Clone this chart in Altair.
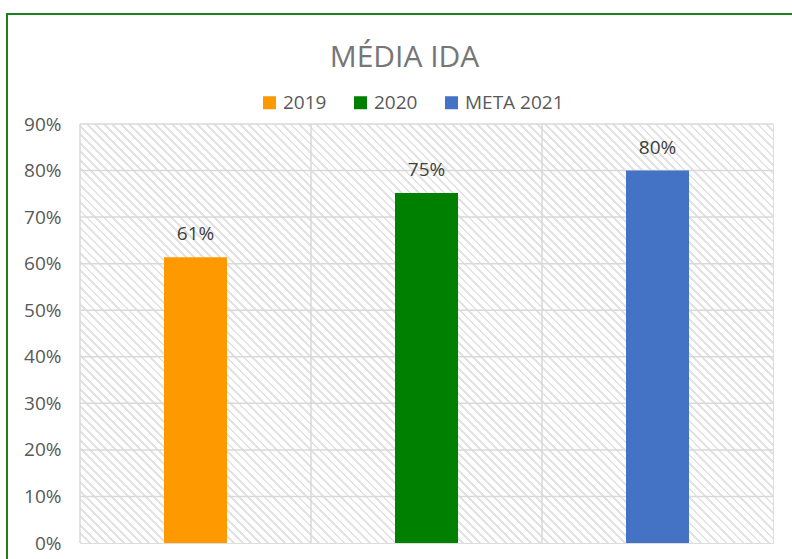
import math
import altair as alt
import pandas as pd

# ---- data ----
categories = ["2019", "2020", "META 2021"]
values = [0.614, 0.752, 0.80]
colors = ["#FF9900", "#008000", "#4472C4"]
y_ticks = [0.0, 0.1, 0.2, 0.3, 0.4, 0.5, 0.6, 0.7, 0.8, 0.9]
title_text = ["MÉDIA IDA"]

df = pd.DataFrame({"cat": categories, "val": values})
grid_df = pd.DataFrame({"t": y_ticks[1:]})
title_df = pd.DataFrame({"title": title_text})

W, H = 693, 419
FONT = "Open Sans"

# ---- hatch pattern (diagonal stripes) as a striped linear gradient ----
t = (W + H) / (W * W + H * H)
L = (W + H) / math.sqrt(2)
period = 6.0
N = int(L / period)
stripe = 0.33
hatch_col = "#e3e3e3"
stops = []
for i in range(N):
    a = i / N
    b = (i + stripe) / N
    c = (i + 1) / N
    stops += [
        {"offset": a, "color": hatch_col},
        {"offset": b, "color": hatch_col},
        {"offset": b, "color": "#ffffff"},
        {"offset": c, "color": "#ffffff"},
    ]
gradient = {
    "gradient": "linear",
    "x1": 0, "y1": 1,
    "x2": t * W, "y2": 1 - t * H,
    "stops": stops,
}

xscale = alt.Scale(domain=categories, paddingInner=0, paddingOuter=0)
yscale = alt.Scale(domain=[0, 0.9])
yaxis = alt.Axis(values=y_ticks, format=".0%", grid=False, ticks=False,
                 domain=False, labelFontSize=19, labelColor="#595959",
                 labelFont=FONT, labelPadding=19, title=None)

base = alt.Chart(df)

border = base.mark_rect(fillOpacity=0, stroke="#1b7f1b", strokeWidth=2).encode(
    x=alt.value(-73), x2=alt.value(W + 40), y=alt.value(-110), y2=alt.value(H + 40)
)

hatch = base.mark_rect(fill=gradient).encode(
    x=alt.value(0), x2=alt.value(W), y=alt.value(0), y2=alt.value(H)
)

hgrid = alt.Chart(grid_df).mark_rule(color="#d9d9d9", strokeWidth=1.5).encode(
    y=alt.Y("t:Q", scale=yscale, axis=yaxis)
)

vgrid = base.mark_rule(color="#d9d9d9", strokeWidth=1.5).encode(
    x=alt.X("cat:N", scale=xscale, bandPosition=0, axis=None),
    y=alt.value(0), y2=alt.value(H),
)

bars = base.mark_bar(width=alt.RelativeBandSize(63 / 231)).encode(
    x=alt.X("cat:N", scale=xscale, axis=None, sort=categories),
    y=alt.Y("val:Q", scale=yscale, axis=yaxis),
    color=alt.Color(
        "cat:N",
        scale=alt.Scale(domain=categories, range=colors),
        legend=alt.Legend(
            orient="none", legendX=180, legendY=-31, direction="horizontal",
            title=None, symbolType="square", symbolSize=169,
            symbolStrokeWidth=0, labelFontSize=19, labelColor="#595959",
            labelFont=FONT, columnPadding=24, labelOffset=4, padding=0,
        ),
    ),
)

labels = base.mark_text(
    fontSize=19, color="#404040", font=FONT, baseline="alphabetic", dy=-17
).encode(
    x=alt.X("cat:N", scale=xscale, axis=None),
    y=alt.Y("val:Q", scale=yscale),
    text=alt.Text("val:Q", format=".0%"),
)

title = alt.Chart(title_df).mark_text(
    fontSize=30, font=FONT, color="#767676", baseline="alphabetic", align="center"
).encode(
    x=alt.value(W / 2 - 22), y=alt.value(-57), text="title:N"
)

chart = (
    alt.layer(border, hatch, hgrid, vgrid, bars, labels, title)
    .properties(
        width=W, height=H,
        padding={"left": 80, "top": 124, "right": 19, "bottom": 16},
        autosize=alt.AutoSizeParams(type="none"),
    )
    .configure_view(stroke="#d9d9d9", strokeWidth=1.5)
    .configure(background="white")
)

chart.save("out.html", embed_options={"renderer": "svg", "actions": False})
